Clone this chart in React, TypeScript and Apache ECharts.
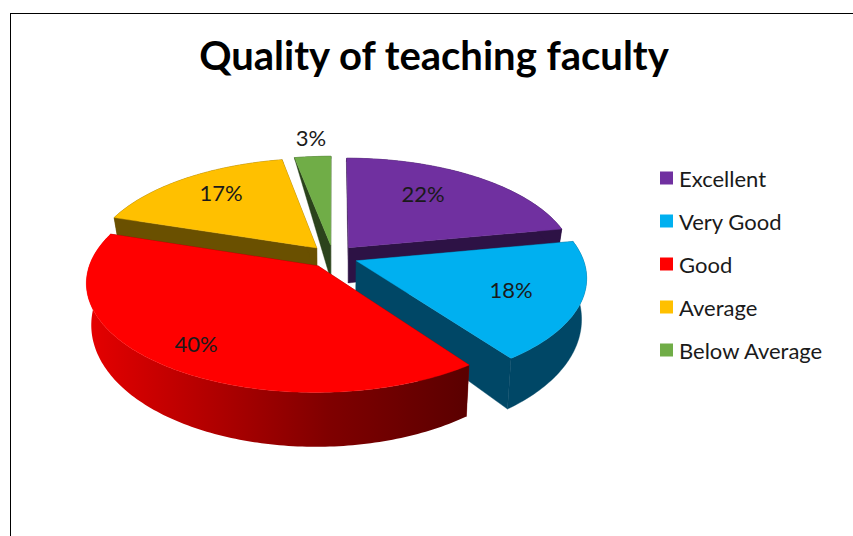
import React, { useEffect, useRef } from "react";
import * as echarts from "echarts";

const TITLE = "Quality of teaching faculty";
const categories = ["Excellent", "Very Good", "Good", "Average", "Below Average"];
const percentages = [22, 18, 40, 17, 3];
const topColors = ["#7030A0", "#00B0F0", "#FF0000", "#FFC000", "#70AD47"];
const wallColors = ["#2D1245", "#004766", "#7A0000", "#6A5000", "#2B431C"];
const paintOrder = [2, 5, 6, 4, 3];

// Layout of the 3-D projection (pixels); not data.
const CX = 333, CY = 256.5, RX = 226, RY = 105, PERSP = 0.146, EXPLODE = 0.11, SHRINK = 0.98;
const labelSpots = [[423, 193.5], [511, 289.5], [196, 343.5], [221, 192.5], [311, 137.5]];
const FONT = "Lato, Carlito, sans-serif";

function topPoint(u: number, v: number) {
  const s = 1 / (1 - PERSP * v);
  return [CX + RX * u * s, CY + RY * v * s];
}
function bottomPoint(u: number, v: number) {
  const s = 1 / (1 - PERSP * v);
  const d = v >= 0 ? 38 + 15 * v : 38 + 32 * v;
  return [CX + RX * u * s * SHRINK, CY + RY * v * s + Math.max(d, 2)];
}

function makeRenderItem(index: number) {
  return (_params: any, api: any) => {
    const value = api.value(0);
    const before = api.value(1);
    const a0 = (before / 100) * Math.PI * 2;
    const a1 = ((before + value) / 100) * Math.PI * 2;
    const mid = (a0 + a1) / 2;
    const ox = Math.sin(mid) * EXPLODE;
    const oy = -Math.cos(mid) * EXPLODE;
    const steps = Math.max(4, Math.ceil(((a1 - a0) * 180) / Math.PI));
    const top: number[][] = [];
    const bottom: number[][] = [];
    for (let i = 0; i <= steps; i++) {
      const a = a0 + ((a1 - a0) * i) / steps;
      const u = Math.sin(a) + ox;
      const v = -Math.cos(a) + oy;
      top.push(topPoint(u, v));
      bottom.push(bottomPoint(u, v));
    }
    const apexTop = topPoint(ox, oy);
    const apexBottom = bottomPoint(ox, oy);
    const isRed = index === 2;
    const wallFill: any = wallColors[index];
    const rimFill: any = isRed
      ? new echarts.graphic.LinearGradient(0, 0, 1, 0, [
          { offset: 0, color: "#E60000" },
          { offset: 0.16, color: "#CC0000" },
          { offset: 0.37, color: "#AA0000" },
          { offset: 0.63, color: "#800000" },
          { offset: 1, color: "#5A0000" },
        ])
      : wallFill;
    const poly = (points: number[][], fill: any) => ({
      type: "polygon",
      shape: { points },
      style: { fill, stroke: fill === rimFill && isRed ? "none" : fill, lineWidth: 0.4 },
    });
    const [lx, ly] = labelSpots[index];
    return {
      type: "group",
      children: [
        poly([apexTop, top[0], bottom[0], apexBottom], wallFill),
        poly([apexTop, top[steps], bottom[steps], apexBottom], wallFill),
        poly([...top, ...bottom.slice().reverse()], rimFill),
        poly([apexTop, ...top], topColors[index]),
        {
          type: "text",
          style: {
            text: value + "%",
            x: lx,
            y: ly,
            fill: "#1A1A1A",
            font: `22px ${FONT}`,
            textAlign: "center",
            textVerticalAlign: "middle",
          },
        },
      ],
    };
  };
}

export default function App() {
  const ref = useRef<HTMLDivElement>(null);
  useEffect(() => {
    document.body.style.margin = "0";
    const chart = echarts.init(ref.current!, undefined, { renderer: "svg" });
    let running = 0;
    const starts = percentages.map((p) => {
      const s = running;
      running += p;
      return s;
    });
    chart.setOption({
      animation: false,
      backgroundColor: "#FFFFFF",
      title: {
        text: TITLE,
        left: 429,
        top: 30,
        textAlign: "center",
        textStyle: { fontFamily: FONT, fontWeight: "bold", fontSize: 40, color: "#000000" },
      },
      legend: {
        orient: "vertical",
        left: 660,
        top: 167,
        padding: 0,
        itemWidth: 13,
        itemHeight: 13,
        itemGap: 21,
        icon: "rect",
        selectedMode: false,
        data: categories,
        textStyle: { fontFamily: FONT, fontSize: 22, color: "#1A1A1A", padding: [0, 0, 0, 1], lineHeight: 22 },
      },
      graphic: [
        { type: "line", shape: { x1: 10, y1: 13.5, x2: 853, y2: 13.5 }, style: { stroke: "#000", lineWidth: 1 } },
        { type: "line", shape: { x1: 10.5, y1: 13, x2: 10.5, y2: 536 }, style: { stroke: "#000", lineWidth: 1 } },
      ],
      series: categories.map((name, i) => ({
        type: "custom",
        name,
        coordinateSystem: "none",
        silent: true,
        z: paintOrder[i],
        itemStyle: { color: topColors[i] },
        data: [[percentages[i], starts[i]]],
        renderItem: makeRenderItem(i),
      })),
    });
    return () => chart.dispose();
  }, []);
  return <div ref={ref} style={{ width: 853, height: 536 }} />;
}
